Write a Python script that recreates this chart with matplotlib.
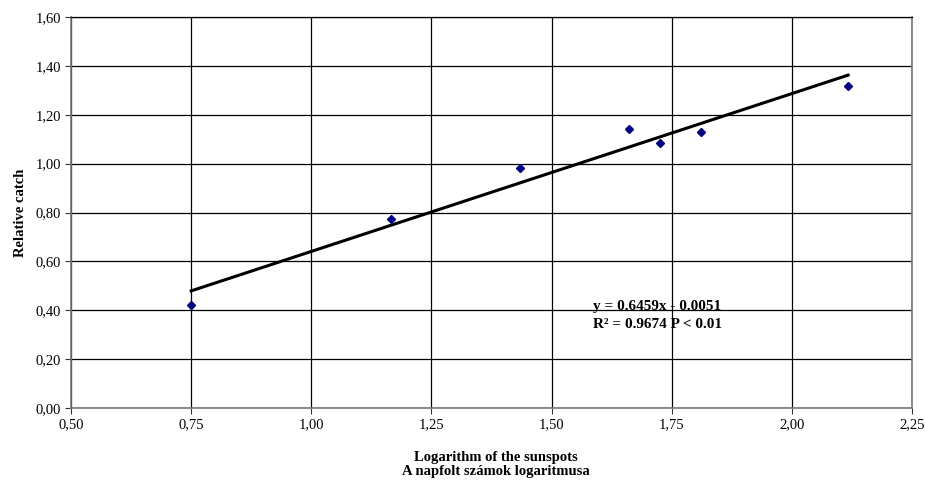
import numpy as np
import matplotlib
matplotlib.use('Agg')
import matplotlib.pyplot as plt
from matplotlib.ticker import FuncFormatter

plt.rcParams['font.family'] = ['Liberation Serif', 'DejaVu Serif']

# log of sunspot numbers vs relative catch
log_sunspots = [0.75, 1.166, 1.435, 1.662, 1.726, 1.811, 2.117]
rel_catch = [0.42, 0.773, 0.983, 1.143, 1.083, 1.131, 1.316]
slope = 0.6459
intercept = -0.0051

x_ticks = [0.50, 0.75, 1.00, 1.25, 1.50, 1.75, 2.00, 2.25]
y_ticks = [0.0, 0.2, 0.4, 0.6, 0.8, 1.0, 1.2, 1.4, 1.6]


def comma_fmt(v, pos):
    return ('%.2f' % v).replace('.', ',')


fig = plt.figure(figsize=(9.25, 4.82), dpi=100)
ax = fig.add_axes([0.0768, 0.1535, 0.9092, 0.8112])

ax.set_xlim(0.5, 2.25)
ax.set_ylim(0, 1.6)
ax.set_xticks(x_ticks)
ax.set_yticks(y_ticks)
ax.xaxis.set_major_formatter(FuncFormatter(comma_fmt))
ax.yaxis.set_major_formatter(FuncFormatter(comma_fmt))
ax.tick_params(direction='out', length=4, width=0.8, labelsize=10.5, color='#333333', pad=3)
ax.grid(True, color='black', linewidth=0.9)
ax.set_axisbelow(True)
for s in ['left', 'bottom', 'right']:
    ax.spines[s].set_color('#777777')
    ax.spines[s].set_linewidth(1.2)
ax.spines['top'].set_color('black')
ax.spines['top'].set_linewidth(0.9)

xs = np.array([min(log_sunspots), max(log_sunspots)])
ax.plot(xs, slope * xs + intercept, color='black', linewidth=2.2, zorder=3)
ax.plot(log_sunspots, rel_catch, linestyle='none', marker='D', markersize=4,
        color='#000080', zorder=4)

ax.text(1.587, 0.415, 'y = 0.6459x - 0.0051', fontsize=11, fontweight='bold', va='center')
ax.text(1.587, 0.343, 'R² = 0.9674 P < 0.01', fontsize=11, fontweight='bold', va='center')

ax.set_ylabel('Relative catch', fontsize=10.5, fontweight='bold', labelpad=6)
fig.text(0.536, 0.050, 'Logarithm of the sunspots', ha='center', va='center',
         fontsize=10.5, fontweight='bold')
fig.text(0.536, 0.021, 'A napfolt számok logaritmusa', ha='center', va='center',
         fontsize=10.5, fontweight='bold')

fig.savefig('out.png', dpi=100)
